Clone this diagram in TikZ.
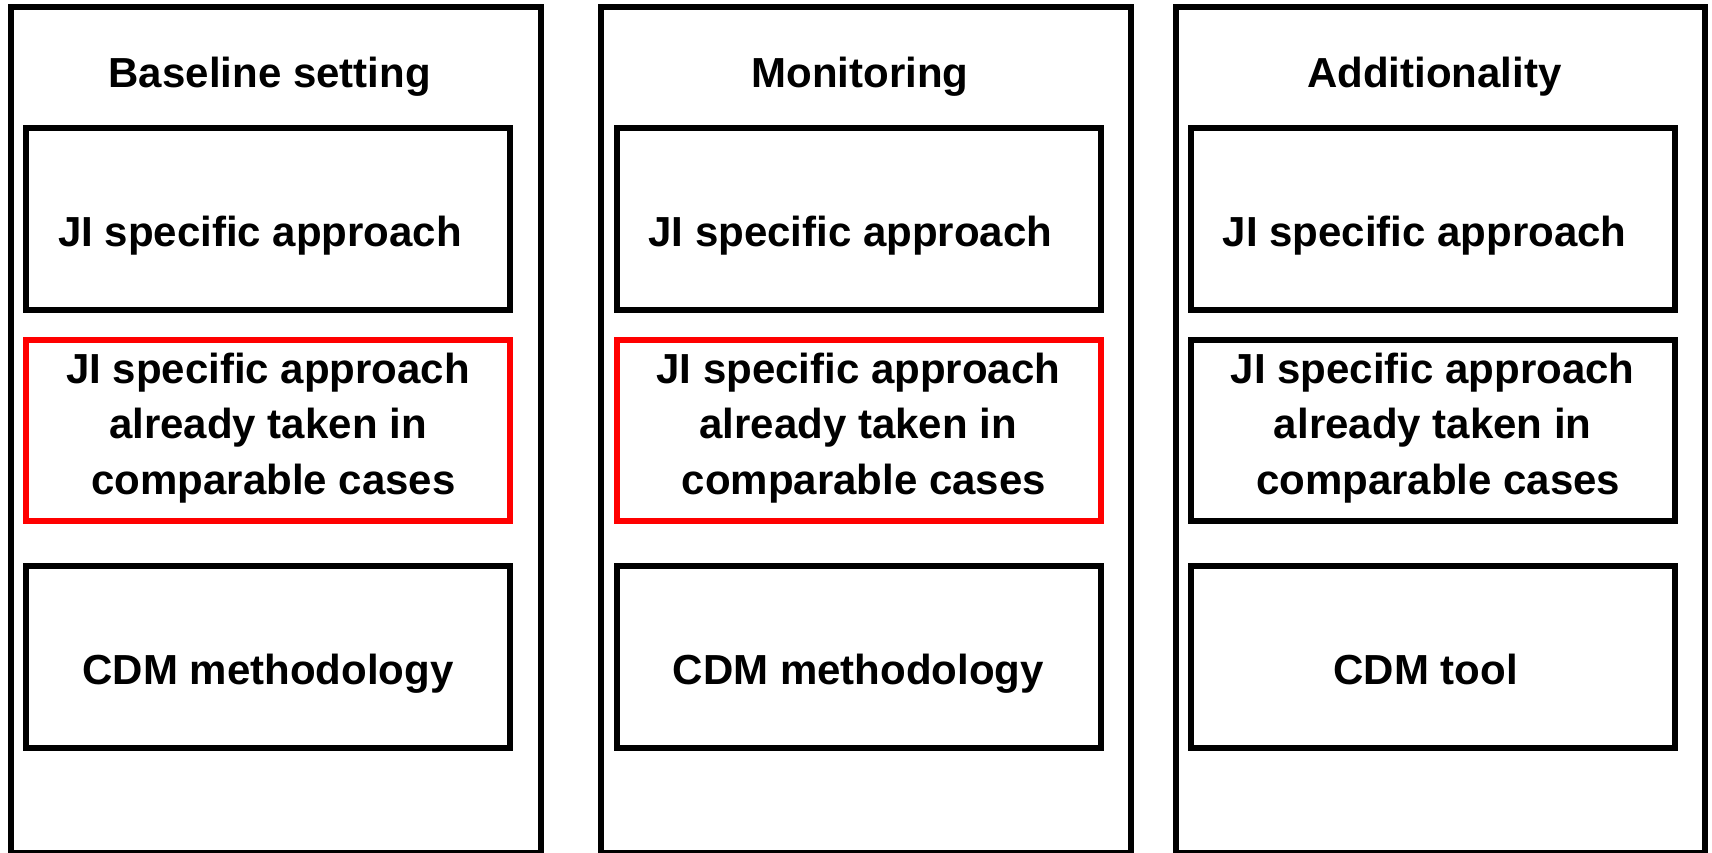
\documentclass[tikz,border=0pt]{standalone}
\usepackage{fontspec}
\setmainfont{Liberation Sans}
\begin{document}
\begin{tikzpicture}[x=1pt,y=-1pt,
  frame/.style={draw=black,line width=6pt,rectangle,inner sep=0pt,outer sep=0pt,minimum width=529.5pt,minimum height=845.7pt},
  cell/.style={draw=#1,line width=6pt,rectangle,inner sep=0pt,outer sep=0pt,minimum width=484pt,minimum height=181.6pt},
  lbl/.style={anchor=base,inner sep=0pt,outer sep=0pt,font=\bfseries\fontsize{42}{50}\selectfont,text=black}]
\useasboundingbox (0,0) rectangle (1712,852);
\fill[white] (0,0) rectangle (1712,852);
\foreach \c/\ox/\ttl/\last/\lastdx/\rc in {a/11/Baseline setting/CDM methodology/257/red,b/601.3/Monitoring/CDM methodology/257/red,c/1175.7/Additionality/CDM tool/250/black}{
  \node[frame] (col\c) at ({\ox+264.85},430.15) {};
  \node[lbl] (title\c) at ({\ox+258.7},87.5) {\ttl};
  \node[cell=black] (top\c) at ({\ox+257.2},218.85) {};
  \node[lbl] (toptxt\c) at ({\ox+249},246) {JI specific approach};
  \node[cell=\rc] (mid\c) at ({\ox+257.2},430.5) {};
  \node[lbl] (midone\c) at ({\ox+257},383) {JI specific approach};
  \node[lbl] (midtwo\c) at ({\ox+257},438.5) {already taken in};
  \node[lbl] (midthree\c) at ({\ox+262.5},494.5) {comparable cases};
  \node[cell=black] (bot\c) at ({\ox+257.2},657.15) {};
  \node[lbl] (bottxt\c) at ({\ox+\lastdx},684) {\last};
}
\end{tikzpicture}
\end{document}
